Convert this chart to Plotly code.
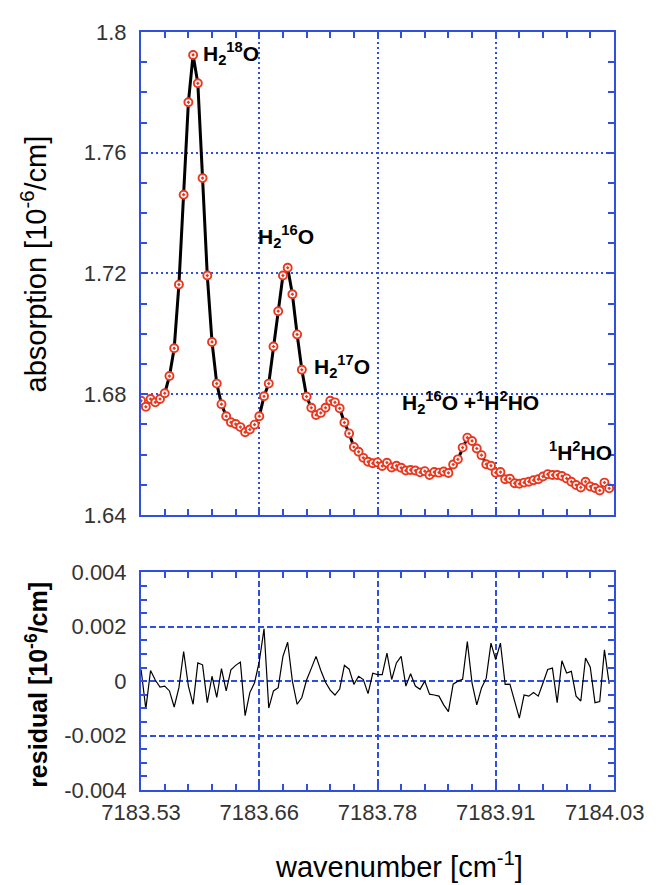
import plotly.graph_objects as go

# ---------------- data ----------------
wavenumber = [
    7183.530, 7183.535, 7183.540, 7183.545, 7183.550, 7183.555, 7183.560, 7183.565, 7183.570, 7183.575,
    7183.580, 7183.585, 7183.590, 7183.595, 7183.600, 7183.605, 7183.610, 7183.615, 7183.620, 7183.625,
    7183.630, 7183.635, 7183.640, 7183.645, 7183.650, 7183.655, 7183.660, 7183.665, 7183.670, 7183.675,
    7183.680, 7183.685, 7183.690, 7183.695, 7183.700, 7183.705, 7183.710, 7183.715, 7183.720, 7183.725,
    7183.730, 7183.735, 7183.740, 7183.745, 7183.750, 7183.755, 7183.760, 7183.765, 7183.770, 7183.775,
    7183.780, 7183.785, 7183.790, 7183.795, 7183.800, 7183.805, 7183.810, 7183.815, 7183.820, 7183.825,
    7183.830, 7183.835, 7183.840, 7183.845, 7183.850, 7183.855, 7183.860, 7183.865, 7183.870, 7183.875,
    7183.880, 7183.885, 7183.890, 7183.895, 7183.900, 7183.905, 7183.910, 7183.915, 7183.920, 7183.925,
    7183.930, 7183.935, 7183.940, 7183.945, 7183.950, 7183.955, 7183.960, 7183.965, 7183.970, 7183.975,
    7183.980, 7183.985, 7183.990, 7183.995, 7184.000, 7184.005, 7184.010, 7184.015, 7184.020, 7184.025,
]

absorption = [
    1.6778, 1.6758, 1.6784, 1.6773, 1.6784, 1.6803, 1.6860, 1.6952, 1.7163, 1.7461,
    1.7767, 1.7924, 1.7830, 1.7516, 1.7193, 1.6973, 1.6835, 1.6767, 1.6727, 1.6707,
    1.6701, 1.6691, 1.6674, 1.6683, 1.6699, 1.6727, 1.6793, 1.6835, 1.6958, 1.7075,
    1.7193, 1.7219, 1.7131, 1.6998, 1.6881, 1.6792, 1.6755, 1.6731, 1.6738, 1.6755,
    1.6778, 1.6773, 1.6753, 1.6706, 1.6670, 1.6625, 1.6609, 1.6589, 1.6576, 1.6571,
    1.6574, 1.6562, 1.6573, 1.6557, 1.6563, 1.6556, 1.6547, 1.6549, 1.6547, 1.6541,
    1.6545, 1.6532, 1.6542, 1.6540, 1.6544, 1.6539, 1.6567, 1.6584, 1.6623, 1.6656,
    1.6645, 1.6620, 1.6598, 1.6568, 1.6563, 1.6540, 1.6542, 1.6518, 1.6520, 1.6505,
    1.6503, 1.6507, 1.6510, 1.6515, 1.6518, 1.6527, 1.6535, 1.6532, 1.6532, 1.6529,
    1.6521, 1.6510, 1.6499, 1.6491, 1.6510, 1.6494, 1.6489, 1.6481, 1.6507, 1.6488,
]

residual = [
    0.00043, -0.00102, 0.00039, 0.00004, -0.00022, -0.00018, -0.00036, -0.00095, -0.00024, 0.00109,
    -0.00018, -0.00085, 0.00067, 0.00060, -0.00079, 0.00018, -0.00060, 0.00046, -0.00036, 0.00042,
    0.00058, 0.00070, -0.00127, -0.00042, -0.00006, 0.00073, 0.00192, -0.00099, -0.00036, -0.00024,
    0.00091, 0.00143, 0.00000, -0.00085, -0.00060, 0.00004, 0.00047, 0.00091, 0.00040, -0.00004,
    -0.00033, -0.00051, -0.00029, 0.00058, 0.00044, -0.00012, 0.00018, 0.00006, -0.00046, 0.00029,
    0.00024, 0.00024, 0.00103, 0.00006, 0.00067, 0.00091, -0.00018, 0.00027, -0.00018, -0.00030,
    0.00000, -0.00048, -0.00051, -0.00055, -0.00087, -0.00112, -0.00011, 0.00000, 0.00007, 0.00145,
    -0.00007, -0.00087, -0.00025, 0.00011, 0.00140, 0.00079, 0.00140, -0.00012, -0.00011, -0.00073,
    -0.00136, -0.00051, -0.00055, -0.00042, -0.00055, -0.00007, 0.00043, 0.00048, -0.00079, 0.00075,
    0.00030, 0.00036, -0.00055, -0.00073, 0.00085, 0.00051, -0.00079, -0.00075, 0.00115, -0.00010,
]

x_tickvals = [7183.53, 7183.655, 7183.78, 7183.905, 7184.03]
x_ticktext = ["7183.53", "7183.66", "7183.78", "7183.91", "7184.03\u00a0\u00a0\u00a0"]
y1_tickvals = [1.64, 1.68, 1.72, 1.76, 1.80]
y1_ticktext = ["1.64", "1.68", "1.72", "1.76", "1.8"]
y2_tickvals = [-0.004, -0.002, 0.0, 0.002, 0.004]
y2_ticktext = ["-0.004", "-0.002", "0", "0.002", "0.004"]

peak_labels = [
    "H<sub>2</sub><sup>18</sup>O",
    "H<sub>2</sub><sup>16</sup>O",
    "H<sub>2</sub><sup>17</sup>O",
    "H<sub>2</sub><sup>16</sup>O +<sup>1</sup>H<sup>2</sup>HO",
    "<sup>1</sup>H<sup>2</sup>HO",
]
peak_label_x = [7183.5933, 7183.6514, 7183.7106, 7183.8035, 7183.9596]
peak_label_y = [1.7928, 1.7322, 1.6892, 1.6774, 1.6613]

# ---------------- style / layout ----------------
BLUE = "#2f4fe0"
FONT = "Liberation Sans, Arial, sans-serif"
TICKC = "#333333"
OFF = 8  # page body margin of the html page

W, H = 667, 885
# wanted positions in the screenshot (pixels)
left_px, right_px = 141, 631
top_px, mid1_px, mid2_px, bot_px = 24, 512, 570, 790
plot_h = bot_px - top_px
plot_w = right_px - left_px
d1 = [(bot_px - mid1_px) / plot_h, 1.0]
d2 = [0.0, (bot_px - mid2_px) / plot_h]

fig = go.Figure()

fig.add_trace(go.Scatter(
    x=wavenumber, y=absorption, mode="lines",
    line=dict(color="black", width=3), xaxis="x", yaxis="y",
    showlegend=False, hoverinfo="skip",
))
fig.add_trace(go.Scatter(
    x=wavenumber, y=absorption, mode="markers",
    marker=dict(symbol="circle-dot", size=8, color="white",
                line=dict(color="#e8381f", width=1.9)),
    xaxis="x", yaxis="y", showlegend=False,
))
fig.add_trace(go.Scatter(
    x=wavenumber, y=residual, mode="lines",
    line=dict(color="black", width=1.2), xaxis="x2", yaxis="y2",
    showlegend=False,
))

common_axis = dict(
    showline=True, linecolor=BLUE, linewidth=2, mirror="ticks",
    ticks="inside", ticklen=6, tickwidth=1.5, tickcolor=BLUE,
    showgrid=True, gridcolor=BLUE, gridwidth=1.5,
    zeroline=False, ticklabeloverflow="allow",
    tickfont=dict(family=FONT, size=22, color=TICKC),
)
XR = [7183.5299, 7184.0301]

fig.update_layout(
    width=W, height=H,
    margin=dict(l=left_px - OFF, r=W - right_px + OFF, t=top_px - OFF, b=H - bot_px + OFF),
    paper_bgcolor="white", plot_bgcolor="white",
    font=dict(family=FONT, color="black"),
    xaxis=dict(common_axis, anchor="y", domain=[0, 1], range=XR,
               tickmode="array", tickvals=x_tickvals, ticktext=x_ticktext,
               showticklabels=False, griddash="2px,3px",
               minor=dict(dtick=0.025, tick0=7183.53, ticks="inside", ticklen=6,
                          tickwidth=1.5, tickcolor=BLUE, showgrid=False)),
    yaxis=dict(common_axis, anchor="x", domain=d1, range=[1.64, 1.80],
               tickmode="array", tickvals=y1_tickvals, ticktext=y1_ticktext,
               griddash="2px,3px", ticklabelstandoff=8,
               minor=dict(dtick=0.01, tick0=1.64, ticks="inside", ticklen=6,
                          tickwidth=1.5, tickcolor=BLUE, showgrid=False)),
    xaxis2=dict(common_axis, anchor="y2", domain=[0, 1], range=XR,
                tickmode="array", tickvals=x_tickvals, ticktext=x_ticktext,
                griddash="6px,3px", ticklabelstandoff=2,
                minor=dict(dtick=0.025, tick0=7183.53, ticks="inside", ticklen=6,
                           tickwidth=1.5, tickcolor=BLUE, showgrid=False)),
    yaxis2=dict(common_axis, anchor="x2", domain=d2, range=[-0.004, 0.004],
                tickmode="array", tickvals=y2_tickvals, ticktext=y2_ticktext,
                griddash="6px,3px", ticklabelstandoff=8,
                minor=dict(dtick=0.0005, tick0=-0.004, ticks="inside", ticklen=6,
                           tickwidth=1.5, tickcolor=BLUE, showgrid=False)),
)

annotations = []
for txt, ax, ay in zip(peak_labels, peak_label_x, peak_label_y):
    annotations.append(dict(
        x=ax, y=ay, xref="x", yref="y", text="<b>" + txt + "</b>",
        showarrow=False, xanchor="left", yanchor="middle",
        font=dict(family=FONT, size=21, color="black"),
    ))

titles = [
    dict(text="absorption [10<sup>-6</sup>/cm]", textangle=-90, px=30, py=258,
         font=dict(family=FONT, size=29, color="black")),
    dict(text="<b>residual [10<sup>-6</sup>/cm]</b>", textangle=-90, px=33, py=684,
         font=dict(family=FONT, size=25, color="black")),
    dict(text="wavenumber [cm<sup>-1</sup>]", textangle=0, px=408, py=866,
         font=dict(family=FONT, size=29, color="black")),
]
for t in titles:
    annotations.append(dict(
        text=t["text"], textangle=t["textangle"], font=t["font"],
        x=(t["px"] - left_px) / plot_w, y=(bot_px - t["py"]) / plot_h,
        xref="paper", yref="paper", xanchor="center", yanchor="middle",
        showarrow=False,
    ))

fig.update_layout(annotations=annotations)

fig.write_html("out.html")
